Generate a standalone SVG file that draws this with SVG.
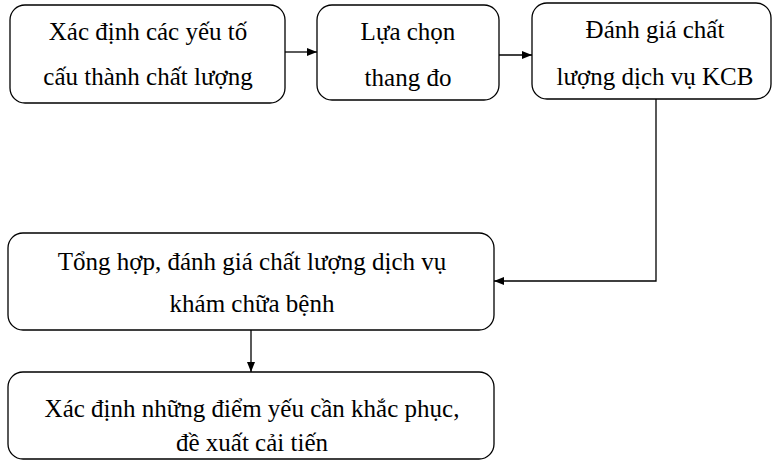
<svg xmlns="http://www.w3.org/2000/svg" width="774" height="471" viewBox="0 0 774 471">
<style>
.box{fill:#fff;stroke:#000;stroke-width:1.3}
.c{fill:none;stroke:#000;stroke-width:1.3}
</style>
<defs>
<marker id="ah" markerWidth="10" markerHeight="8" refX="10" refY="4" orient="auto" markerUnits="userSpaceOnUse">
<path d="M0,0 L10,4 L0,8 Z" fill="#000"/>
</marker>
</defs>
<rect width="774" height="471" fill="#fff"/>
<g font-family="'Liberation Serif', 'Times New Roman', serif" font-size="25" fill="#000" text-anchor="middle">
<g id="n1"><rect class="box" x="10" y="5" width="275" height="98" rx="15"/>
<text x="148" y="40">Xác định các yếu tố</text>
<text x="148" y="85">cấu thành chất lượng</text></g>
<g id="n2"><rect class="box" x="317" y="5" width="182" height="95" rx="15"/>
<text x="408" y="40">Lựa chọn</text>
<text x="408" y="86">thang đo</text></g>
<g id="n3"><rect class="box" x="532" y="3" width="239" height="96" rx="15"/>
<text x="655" y="38">Đánh giá chất</text>
<text x="655" y="85">lượng dịch vụ KCB</text></g>
<g id="n4"><rect class="box" x="8" y="233" width="486" height="97" rx="15"/>
<text x="252" y="270">Tổng hợp, đánh giá chất lượng dịch vụ</text>
<text x="252" y="312">khám chữa bệnh</text></g>
<g id="n5"><rect class="box" x="8" y="372" width="486" height="87" rx="15"/>
<text x="252" y="417">Xác định những điểm yếu cần khắc phục,</text>
<text x="252" y="451">đề xuất cải tiến</text></g>
</g>
<g id="connectors">
<path class="c" d="M285,52 H317" marker-end="url(#ah)"/>
<path class="c" d="M499,55 H532" marker-end="url(#ah)"/>
<path class="c" d="M656,99 V281 H494" marker-end="url(#ah)"/>
<path class="c" d="M251,330 V372" marker-end="url(#ah)"/>
</g>
</svg>
